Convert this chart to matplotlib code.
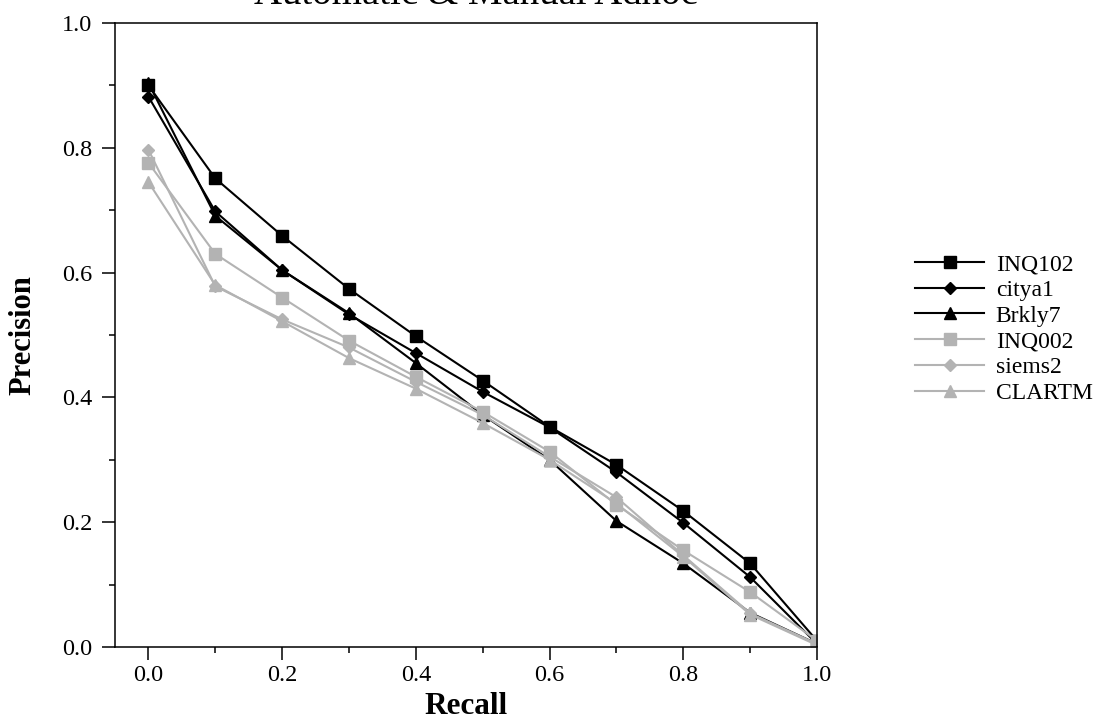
import matplotlib.pyplot as plt
from matplotlib.ticker import MultipleLocator

# --- dados ---
recall = [0.0, 0.1, 0.2, 0.3, 0.4, 0.5, 0.6, 0.7, 0.8, 0.9, 1.0]

inq102 = [0.900, 0.751, 0.659, 0.574, 0.498, 0.427, 0.353, 0.292, 0.218, 0.134, 0.010]
citya1 = [0.882, 0.698, 0.604, 0.533, 0.471, 0.409, 0.352, 0.280, 0.199, 0.112, 0.005]
brkly7 = [0.904, 0.691, 0.604, 0.535, 0.455, 0.372, 0.300, 0.202, 0.134, 0.055, 0.005]
inq002 = [0.776, 0.630, 0.560, 0.491, 0.433, 0.377, 0.313, 0.228, 0.155, 0.088, 0.010]
siems2 = [0.797, 0.578, 0.525, 0.480, 0.425, 0.372, 0.305, 0.240, 0.147, 0.054, 0.005]
clartm = [0.745, 0.580, 0.522, 0.463, 0.414, 0.359, 0.300, 0.230, 0.145, 0.052, 0.003]

plt.rcParams['font.family'] = 'Liberation Serif'

preto = 'black'
cinza = '#b3b3b3'

fig = plt.figure(figsize=(11.01, 7.19), dpi=100)
ax = fig.add_axes([115/1101, 1 - 647/719, 702/1101, 624/719])

ax.plot(recall, inq102, color=preto, lw=1.5, marker='s', ms=8.5, label='INQ102')
ax.plot(recall, citya1, color=preto, lw=1.5, marker='D', ms=6, label='citya1')
ax.plot(recall, brkly7, color=preto, lw=1.5, marker='^', ms=8.5, label='Brkly7')
ax.plot(recall, inq002, color=cinza, lw=1.5, marker='s', ms=8.5, label='INQ002')
ax.plot(recall, siems2, color=cinza, lw=1.5, marker='D', ms=6, label='siems2')
ax.plot(recall, clartm, color=cinza, lw=1.5, marker='^', ms=8.5, label='CLARTM')

ax.set_xlim(-0.05, 1.0)
ax.set_ylim(0.0, 1.0)
ax.xaxis.set_major_locator(MultipleLocator(0.2))
ax.xaxis.set_minor_locator(MultipleLocator(0.1))
ax.yaxis.set_major_locator(MultipleLocator(0.2))
ax.yaxis.set_minor_locator(MultipleLocator(0.1))
ax.xaxis.set_major_formatter(lambda v, p: f'{v:.1f}')
ax.yaxis.set_major_formatter(lambda v, p: f'{v:.1f}')

ax.tick_params(which='major', direction='out', length=9.5, width=1.1, labelsize=17.5)
ax.tick_params(which='minor', direction='out', length=4.5, width=1.1)
ax.tick_params(axis='x', which='major', pad=3.5)
ax.tick_params(axis='y', which='major', pad=7)
for s in ax.spines.values():
    s.set_linewidth(1.1)

ax.set_xlabel('Recall', fontsize=22.5, fontweight='bold')
ax.set_ylabel('Precision', fontsize=22, fontweight='bold')
ax.xaxis.set_label_coords(0.5, -0.072)
ax.yaxis.set_label_coords(-0.110, 0.5)

# titulo parcialmente cortado no topo
fig.text(0.432, 1 - 4.5/719, 'Automatic & Manual Adhoc', fontsize=28,
         ha='center', va='baseline')

ax.legend(loc='center left', bbox_to_anchor=(1.11, 0.51), frameon=False,
          fontsize=17, handlelength=2.9, handletextpad=0.5, labelspacing=0.18)

fig.savefig('out.png', dpi=100)
